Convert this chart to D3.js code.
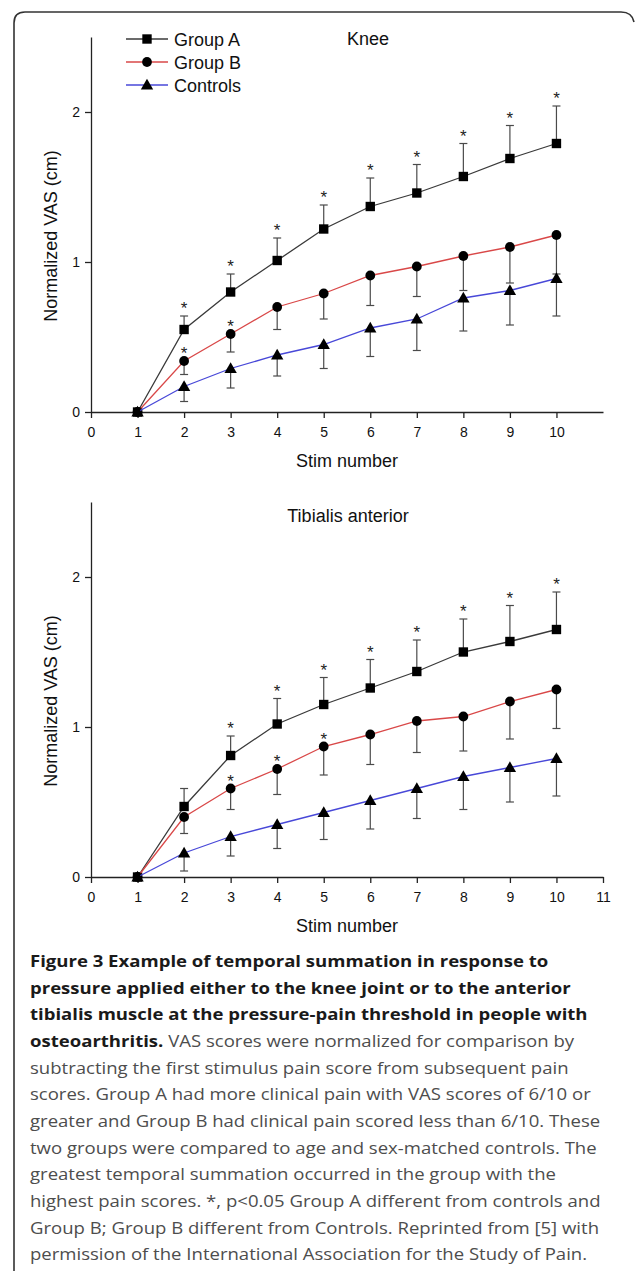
<!DOCTYPE html>
<html>
<head>
<meta charset="utf-8">
<script src="https://cdn.jsdelivr.net/npm/d3@7"></script>
<style>
  html, body { margin: 0; padding: 0; background: #fff; }
  svg { display: block; }
</style>
</head>
<body>
<svg id="fig" width="635" height="1271"></svg>
<script>
// stimulus numbers on the x axis
const stims = [1, 2, 3, 4, 5, 6, 7, 8, 9, 10];

// Knee – means and error bar lengths (A up, B and Controls down)
const kneeA    = [0, 0.55, 0.80, 1.01, 1.22, 1.37, 1.46, 1.57, 1.69, 1.79];
const kneeAErr = [0, 0.09, 0.12, 0.15, 0.16, 0.19, 0.19, 0.22, 0.22, 0.25];
const kneeB    = [0, 0.34, 0.52, 0.70, 0.79, 0.91, 0.97, 1.04, 1.10, 1.18];
const kneeBErr = [0, 0.09, 0.12, 0.15, 0.17, 0.20, 0.20, 0.23, 0.24, 0.26];
const kneeC    = [0, 0.17, 0.29, 0.38, 0.45, 0.56, 0.62, 0.76, 0.81, 0.89];
const kneeCErr = [0, 0.10, 0.13, 0.14, 0.16, 0.19, 0.21, 0.22, 0.23, 0.25];
const kneeStarsA = [2, 3, 4, 5, 6, 7, 8, 9, 10];
const kneeStarsB = [2, 3];

// Tibialis anterior
const tibA    = [0, 0.47, 0.81, 1.02, 1.15, 1.26, 1.37, 1.50, 1.57, 1.65];
const tibAErr = [0, 0.12, 0.13, 0.17, 0.18, 0.19, 0.21, 0.22, 0.24, 0.25];
const tibB    = [0, 0.40, 0.59, 0.72, 0.87, 0.95, 1.04, 1.07, 1.17, 1.25];
const tibBErr = [0, 0.11, 0.14, 0.17, 0.19, 0.20, 0.21, 0.23, 0.25, 0.26];
const tibC    = [0, 0.16, 0.27, 0.35, 0.43, 0.51, 0.59, 0.67, 0.73, 0.79];
const tibCErr = [0, 0.12, 0.13, 0.16, 0.18, 0.19, 0.20, 0.22, 0.23, 0.25];
const tibStarsA = [3, 4, 5, 6, 7, 8, 9, 10];
const tibStarsB = [3, 4, 5];

const yTicks = [0, 1, 2];
const kneeXTicks = [0, 1, 2, 3, 4, 5, 6, 7, 8, 9, 10];
const tibXTicks  = [0, 1, 2, 3, 4, 5, 6, 7, 8, 9, 10, 11];

const seriesNames = ['Group A', 'Group B', 'Controls'];

const caption = [
  [['Figure 3 Example of temporal summation in response to', true]],
  [['pressure applied either to the knee joint or to the anterior', true]],
  [['tibialis muscle at the pressure-pain threshold in people with', true]],
  [['osteoarthritis.', true], [' VAS scores were normalized for comparison by', false]],
  [['subtracting the first stimulus pain score from subsequent pain', false]],
  [['scores. Group A had more clinical pain with VAS scores of 6/10 or', false]],
  [['greater and Group B had clinical pain scored less than 6/10. These', false]],
  [['two groups were compared to age and sex-matched controls. The', false]],
  [['greatest temporal summation occurred in the group with the', false]],
  [['highest pain scores. *, p<0.05 Group A different from controls and', false]],
  [['Group B; Group B different from Controls. Reprinted from [5] with', false]],
  [['permission of the International Association for the Study of Pain.', false]]
];

const FONT = 'Arial, "Liberation Sans", Helvetica, sans-serif';
const svg = d3.select('#fig');

// frame round the figure (open at the bottom and right, like the page crop)
svg.append('path')
  .attr('d', 'M14,1271 L14,23 Q14,12 25,12 L621,12 Q632,12 634,22')
  .attr('fill', 'none')
  .attr('stroke', '#333')
  .attr('stroke-width', 1.6);

const x = d3.scaleLinear().domain([0, 11]).range([91, 603]);

const styles = [
  { line: '#3a3a3a', shape: d3.symbolSquare, size: 88, dir: -1 },
  { line: '#d94848', shape: d3.symbolCircle, size: 75, dir: 1 },
  { line: '#4848d8', shape: d3.symbolTriangle, size: 66, dir: 1 }
];

function drawPanel(cfg) {
  const y = d3.scaleLinear().domain([0, 2.5]).range([cfg.y0, cfg.y0 - 375]);
  const g = svg.append('g');

  // axes
  const xAxis = g.append('g')
    .attr('transform', `translate(0,${cfg.y0})`)
    .call(d3.axisBottom(x).tickValues(cfg.xTicks).tickSizeInner(6).tickSizeOuter(0).tickPadding(9).tickFormat(d3.format('d')));
  const yAxis = g.append('g')
    .attr('transform', `translate(${x(0)},0)`)
    .call(d3.axisLeft(y).tickValues(yTicks).tickSizeInner(6).tickSizeOuter(0).tickPadding(5).tickFormat(d3.format('d')));
  [xAxis, yAxis].forEach(a => {
    a.selectAll('path, line').attr('stroke', '#222').attr('stroke-width', 1.3);
    a.selectAll('text').attr('font-family', FONT).attr('font-size', 14).attr('fill', '#111');
  });

  g.append('text')
    .attr('x', (x(0) + x(11)) / 2).attr('y', cfg.y0 + 55)
    .attr('text-anchor', 'middle')
    .attr('font-family', FONT).attr('font-size', 18).attr('fill', '#111')
    .text('Stim number');

  g.append('text')
    .attr('transform', `translate(57,${cfg.y0 - 176}) rotate(-90)`)
    .attr('text-anchor', 'middle')
    .attr('font-family', FONT).attr('font-size', 18).attr('fill', '#111')
    .text('Normalized VAS (cm)');

  g.append('text')
    .attr('x', cfg.titleX).attr('y', cfg.titleY)
    .attr('text-anchor', 'middle')
    .attr('font-family', FONT).attr('font-size', 18).attr('fill', '#111')
    .text(cfg.title);

  const line = d3.line().x((d, i) => x(stims[i])).y(d => y(d));

  // error bars first, lines and markers on top
  cfg.series.forEach((s, k) => {
    const st = styles[k];
    const eb = g.append('g').attr('stroke', '#4a4a4a').attr('stroke-width', 1.2);
    s.mean.forEach((m, i) => {
      if (s.err[i] === 0) return;
      const end = m - st.dir * s.err[i];
      const px = x(stims[i]);
      eb.append('line').attr('x1', px).attr('x2', px).attr('y1', y(m)).attr('y2', y(end));
      eb.append('line').attr('x1', px - 4).attr('x2', px + 4).attr('y1', y(end)).attr('y2', y(end));
    });
  });

  cfg.series.forEach((s, k) => {
    const st = styles[k];
    g.append('path')
      .datum(s.mean)
      .attr('d', line)
      .attr('fill', 'none')
      .attr('stroke', st.line)
      .attr('stroke-width', 1.3);
    g.selectAll(null)
      .data(s.mean)
      .enter()
      .append('path')
      .attr('transform', (d, i) => `translate(${x(stims[i])},${y(d) + (k === 2 ? 1 : 0)})`)
      .attr('d', d3.symbol().type(st.shape).size(st.size))
      .attr('fill', '#000');
  });

  // significance stars
  const stars = g.append('g')
    .attr('font-family', FONT).attr('font-size', 17).attr('fill', '#222').attr('text-anchor', 'middle');
  const A = cfg.series[0], B = cfg.series[1];
  cfg.starsA.forEach(n => {
    const i = stims.indexOf(n);
    stars.append('text').attr('x', x(n)).attr('y', y(A.mean[i] + A.err[i]) - 2).text('*');
  });
  cfg.starsB.forEach(n => {
    const i = stims.indexOf(n);
    stars.append('text').attr('x', x(n)).attr('y', y(B.mean[i]) - 2).text('*');
  });
}

drawPanel({
  title: 'Knee', titleX: 368, titleY: 45, y0: 412, xTicks: kneeXTicks,
  series: [
    { mean: kneeA, err: kneeAErr },
    { mean: kneeB, err: kneeBErr },
    { mean: kneeC, err: kneeCErr }
  ],
  starsA: kneeStarsA, starsB: kneeStarsB
});

drawPanel({
  title: 'Tibialis anterior', titleX: 348, titleY: 522, y0: 877, xTicks: tibXTicks,
  series: [
    { mean: tibA, err: tibAErr },
    { mean: tibB, err: tibBErr },
    { mean: tibC, err: tibCErr }
  ],
  starsA: tibStarsA, starsB: tibStarsB
});

// legend (top panel)
const legend = svg.append('g');
seriesNames.forEach((name, k) => {
  const st = styles[k];
  const cy = 39 + k * 23;
  legend.append('line').attr('x1', 126).attr('x2', 168).attr('y1', cy).attr('y2', cy)
    .attr('stroke', st.line).attr('stroke-width', 1.3);
  legend.append('path')
    .attr('transform', `translate(147,${cy + (k === 2 ? 1 : 0)})`)
    .attr('d', d3.symbol().type(st.shape).size(st.size))
    .attr('fill', '#000');
  legend.append('text')
    .attr('x', 174).attr('y', cy + 6.5)
    .attr('font-family', FONT).attr('font-size', 18).attr('fill', '#111')
    .text(name);
});

// caption
const cap = svg.append('g')
  .attr('font-family', '"Open Sans", "Noto Sans", sans-serif')
  .attr('font-size', 16.5);
const capLines = caption.map((parts, i) => {
  const t = cap.append('text').attr('x', 30).attr('y', 967 + i * 26.67);
  parts.forEach(([str, bold]) => {
    t.append('tspan')
      .attr('font-weight', bold ? 700 : 400)
      .attr('fill', bold ? '#1a1a1a' : '#4d4d4d')
      .text(str);
  });
  return t;
});
// squeeze horizontally so the widest line ends where it does on the page
const widest = d3.max(capLines, t => t.node().getComputedTextLength());
const k = 571 / widest;
cap.attr('transform', `translate(30,0) scale(${k},1) translate(-30,0)`);
</script>
</body>
</html>
